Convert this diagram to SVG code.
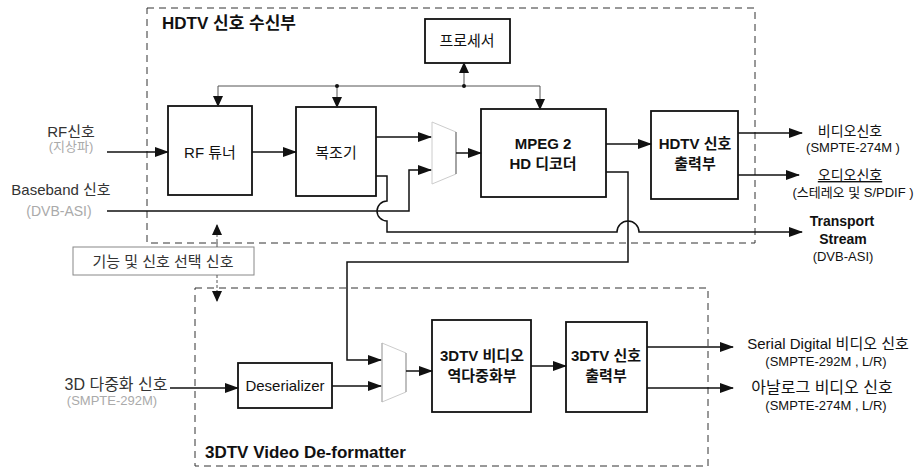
<svg xmlns="http://www.w3.org/2000/svg" width="914" height="471" viewBox="0 0 914 471">
<defs>
<style>
text{font-family:"Liberation Sans","Noto Sans CJK KR",sans-serif;fill:#111}
.box{fill:none;stroke:#111;stroke-width:1.8}
.grp{fill:none;stroke:#333;stroke-width:1;stroke-dasharray:7 5}
.w{fill:none;stroke:#111;stroke-width:1.5}
.c{fill:none;stroke:#555;stroke-width:1}
.mux{fill:none;stroke:#ccc;stroke-width:1}
.lb{font-size:15px;text-anchor:middle;font-weight:bold}
.ln{font-size:15px;text-anchor:middle}
.sub{font-size:13px;text-anchor:middle}
.faint{fill:#aaa}
.in{fill:#333}
</style>
<marker id="ar" markerUnits="userSpaceOnUse" markerWidth="14" markerHeight="10" refX="13" refY="5" orient="auto">
<path d="M0,0 L14,5 L0,10 z" fill="#111"/>
</marker>
<marker id="as" markerUnits="userSpaceOnUse" markerWidth="11" markerHeight="10" refX="10" refY="5" orient="auto">
<path d="M0,0 L11,5 L0,10 z" fill="#111"/>
</marker>
</defs>

<g id="hdtv-receiver-group">
<rect class="grp" x="147" y="8" width="608" height="235"/>
<text x="162" y="29" style="font-size:17px;font-weight:bold">HDTV 신호 수신부</text>
</g>
<g id="deformatter-group">
<rect class="grp" x="195" y="288" width="513" height="178"/>
<text x="205" y="458" style="font-size:17px;font-weight:bold">3DTV Video De-formatter</text>
</g>

<g id="processor"><rect class="box" x="425" y="19" width="85" height="44"/><text class="ln" x="467" y="46">프로세서</text></g>
<g id="rf-tuner"><rect class="box" x="168" y="106" width="84" height="89"/><text class="ln" x="210" y="158">RF 튜너</text></g>
<g id="demod"><rect class="box" x="296" y="107" width="80" height="89"/><text class="ln" x="336" y="158">복조기</text></g>
<g id="mux1"><polygon class="mux" points="432,122 456,132 456,174 432,184"/><line x1="456" y1="132" x2="456" y2="174" stroke="#777" stroke-width="1.2"/></g>
<g id="mpeg-decoder"><rect class="box" x="481" y="109" width="125" height="88"/><text class="lb" x="543" y="149">MPEG 2</text><text class="lb" x="543" y="169">HD 디코더</text></g>
<g id="hdtv-output"><rect class="box" x="651" y="111" width="87" height="88"/><text class="lb" x="695" y="149">HDTV 신호</text><text class="lb" x="695" y="169">출력부</text></g>
<g id="function-select"><rect x="73" y="247" width="181" height="28" fill="none" stroke="#888" stroke-width="1"/><text x="163" y="267" style="font-size:15px;text-anchor:middle;fill:#333">기능 및 신호 선택 신호</text></g>
<g id="deserializer"><rect class="box" x="238" y="363" width="94" height="45"/><text x="285" y="391" style="font-size:15px;text-anchor:middle">Deserializer</text></g>
<g id="mux2"><polygon class="mux" points="382,343 406,353 406,392 382,402"/><line x1="382" y1="343" x2="382" y2="402" stroke="#aaa" stroke-width="1"/><line x1="406" y1="353" x2="406" y2="392" stroke="#999" stroke-width="1"/></g>
<g id="demux3d"><rect class="box" x="432" y="320" width="99" height="92"/><text class="lb" x="482" y="361">3DTV 비디오</text><text class="lb" x="482" y="381">역다중화부</text></g>
<g id="out3d"><rect class="box" x="566" y="322" width="81" height="90"/><text class="lb" x="606" y="361">3DTV 신호</text><text class="lb" x="606" y="381">출력부</text></g>

<g id="labels">
<text class="ln in" x="71" y="137">RF신호</text>
<text class="sub faint" x="71" y="151">(지상파)</text>
<text x="61" y="195" style="font-size:15px;text-anchor:middle;fill:#333">Baseband 신호</text>
<text class="faint" x="59" y="216" style="font-size:14px;text-anchor:middle">(DVB-ASI)</text>
<text x="116" y="390" style="font-size:16px;text-anchor:middle;fill:#333">3D 다중화 신호</text>
<text class="sub faint" x="112" y="405">(SMPTE-292M)</text>
<text x="850" y="136" style="font-size:14px;text-anchor:middle">비디오신호</text>
<text class="sub" x="853" y="152">(SMPTE-274M )</text>
<text x="850" y="180" style="font-size:14px;text-anchor:middle;text-decoration:underline">오디오신호</text>
<text class="sub" x="853" y="197">(스테레오 및 S/PDIF )</text>
<text x="842" y="226" style="font-size:14px;text-anchor:middle;font-weight:bold">Transport</text>
<text x="843" y="244" style="font-size:14px;text-anchor:middle;font-weight:bold">Stream</text>
<text x="843" y="261" style="font-size:13px;text-anchor:middle">(DVB-ASI)</text>
<text x="828" y="349" style="font-size:15px;text-anchor:middle">Serial Digital 비디오 신호</text>
<text class="sub" x="826" y="366">(SMPTE-292M , L/R)</text>
<text x="822" y="393" style="font-size:16px;text-anchor:middle">아날로그 비디오 신호</text>
<text class="sub" x="826" y="410">(SMPTE-274M , L/R)</text>
</g>

<g id="connectors">
<path class="w" d="M107,152 H168" marker-end="url(#ar)"/>
<path class="w" d="M252,152 H296" marker-end="url(#ar)"/>
<path class="w" d="M376,137 H431" marker-end="url(#ar)"/>
<path class="w" d="M107,211 H409 V170 H431" marker-end="url(#ar)"/>
<path class="w" d="M376,176 H387 V201 A10,10 0 0 0 387,221 V232 H617 A11,11 0 0 1 639,232 H802" marker-end="url(#ar)"/>
<path class="w" d="M456,153 H481" marker-end="url(#ar)"/>
<path class="w" d="M606,144 H651" marker-end="url(#ar)"/>
<path class="w" d="M738,133 H802" marker-end="url(#ar)"/>
<path class="w" d="M738,175 H799" marker-end="url(#ar)"/>
<path class="w" d="M606,172 H628 V262 H347 V360 H381" marker-end="url(#ar)"/>
<path class="w" d="M170,388 H238" marker-end="url(#ar)"/>
<path class="w" d="M332,386 H381" marker-end="url(#ar)"/>
<path class="w" d="M406,371 H432" marker-end="url(#ar)"/>
<path class="w" d="M531,366 H566" marker-end="url(#ar)"/>
<path class="w" d="M647,347 H733" marker-end="url(#ar)"/>
<path class="w" d="M647,388 H733" marker-end="url(#ar)"/>
<path class="c" d="M218,86 H540"/>
<path class="c" d="M218,86 V106" marker-end="url(#as)"/>
<path class="c" d="M337,86 V107" marker-end="url(#as)"/>
<path class="c" d="M540,86 V109" marker-end="url(#as)"/>
<path class="c" d="M464,86 V63" marker-end="url(#as)"/>
<circle cx="337" cy="86" r="2" fill="#111"/>
<circle cx="464" cy="86" r="2" fill="#111"/>
<path class="c" d="M217,247 V225" stroke-dasharray="3 2" marker-end="url(#as)"/>
<path class="c" d="M217,275 V301" stroke-dasharray="3 2" marker-end="url(#as)"/>
</g>
</svg>
